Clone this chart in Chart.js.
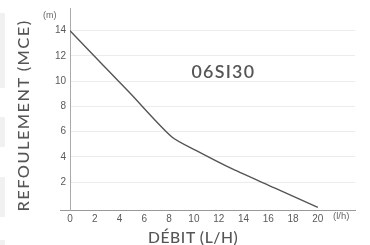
<!DOCTYPE html>
<html>
<head>
<meta charset="utf-8">
<script src="https://cdn.jsdelivr.net/npm/chart.js@4/dist/chart.umd.min.js"></script>
<style>
    body { margin: 0; background: #fff; }
    #wrap { position: relative; width: 370px; height: 245px; overflow: hidden; }
    canvas { position: absolute; left: 0; top: 0; }
    .lbl { position: absolute; color: #555; white-space: nowrap; line-height: 1; }
    .side { position: absolute; left: 0; width: 5px; background: #f1f1f1; }
</style>
</head>
<body>
<div id="wrap">
    <canvas id="chart" width="370" height="245"></canvas>
    <div class="side" style="top:13px;height:75px"></div>
    <div class="side" style="top:117px;height:30px"></div>
    <div class="side" style="top:177px;height:40px"></div>
    <div class="side" style="top:240px;height:5px"></div>
    <div class="lbl" id="ytitle" data-w="192" style="font:500 16px Lato, sans-serif;letter-spacing:1.4px;">REFOULEMENT (MCE)</div>
    <div class="lbl" id="xtitle" data-w="90" style="font:500 16px Lato, sans-serif;letter-spacing:0.6px;">DÉBIT (L/H)</div>
    <div class="lbl" id="name" data-w="64" style="font:600 17px Lato, sans-serif;letter-spacing:1.2px;">06SI30</div>
    <div class="lbl" style="left:43px;top:10px;font:9px 'Liberation Sans', sans-serif;color:#666;">(m)</div>
    <div class="lbl" style="left:333px;top:210px;font:9.5px 'Liberation Sans', sans-serif;color:#666;">(l/h)</div>
</div>
<script>
    const flowValues = [0, 4.8, 8.2, 10.2, 13.1, 16.5, 20];
    const headValues = [14, 9.1, 5.6, 4.5, 3.05, 1.55, 0];
    const xTicks = [0, 2, 4, 6, 8, 10, 12, 14, 16, 18, 20];
    const yTicks = [-0.2, 2, 4, 6, 8, 10, 12, 14];

    // nudge the titles to the width they take in the picture
    const place = (id, cx, cy, rot) => {
        const el = document.getElementById(id);
        const w = el.offsetWidth, h = el.offsetHeight;
        const s = el.dataset.w / w;
        el.style.left = (cx - w / 2) + 'px';
        el.style.top = (cy - h / 2) + 'px';
        el.style.transform = (rot ? 'rotate(-90deg) ' : '') + 'scaleX(' + s + ')';
    };
    place('ytitle', 22, 115, true);
    place('xtitle', 193, 236, false);
    place('name', 223, 71, false);

    const ctx = document.getElementById('chart').getContext('2d');
    new Chart(ctx, {
        type: 'scatter',
        data: {
            datasets: [
                {
                    data: flowValues.map((x, i) => ({ x: x, y: headValues[i] })),
                    showLine: true,
                    borderColor: '#555',
                    borderWidth: 1.4,
                    pointRadius: 0,
                    tension: 0.25,
                    fill: false,
                },
            ],
        },
        options: {
            responsive: false,
            animation: false,
            layout: { padding: { top: 8, right: 15, left: 0, bottom: 0 } },
            plugins: { legend: { display: false }, tooltip: { enabled: false } },
            scales: {
                x: {
                    type: 'linear',
                    min: 0,
                    max: 23,
                    afterBuildTicks: (axis) => { axis.ticks = xTicks.map((v) => ({ value: v })); },
                    afterFit: (scale) => { scale.height = 35; },
                    grid: { display: false, drawTicks: false },
                    border: { color: '#999', width: 1 },
                    ticks: {
                        padding: 3,
                        color: '#5a5a5a',
                        font: { family: 'Liberation Sans', size: 10 },
                        maxRotation: 0,
                    },
                },
                y: {
                    type: 'linear',
                    min: -0.2,
                    max: 15.8,
                    afterBuildTicks: (axis) => { axis.ticks = yTicks.map((v) => ({ value: v })); },
                    afterFit: (scale) => { scale.width = 70; },
                    grid: {
                        color: (c) => (c.tick && c.tick.value < 0 ? 'rgba(0,0,0,0)' : '#ececec'),
                        tickColor: (c) => (c.tick && c.tick.value < 0 ? '#999' : 'rgba(0,0,0,0)'),
                        tickLength: 10,
                    },
                    border: { color: '#aaa', width: 1 },
                    ticks: {
                        padding: -6,
                        color: '#5a5a5a',
                        font: { family: 'Liberation Sans', size: 10 },
                        callback: (v) => (v < 0 ? '' : v),
                    },
                },
            },
        },
    });
</script>
</body>
</html>
